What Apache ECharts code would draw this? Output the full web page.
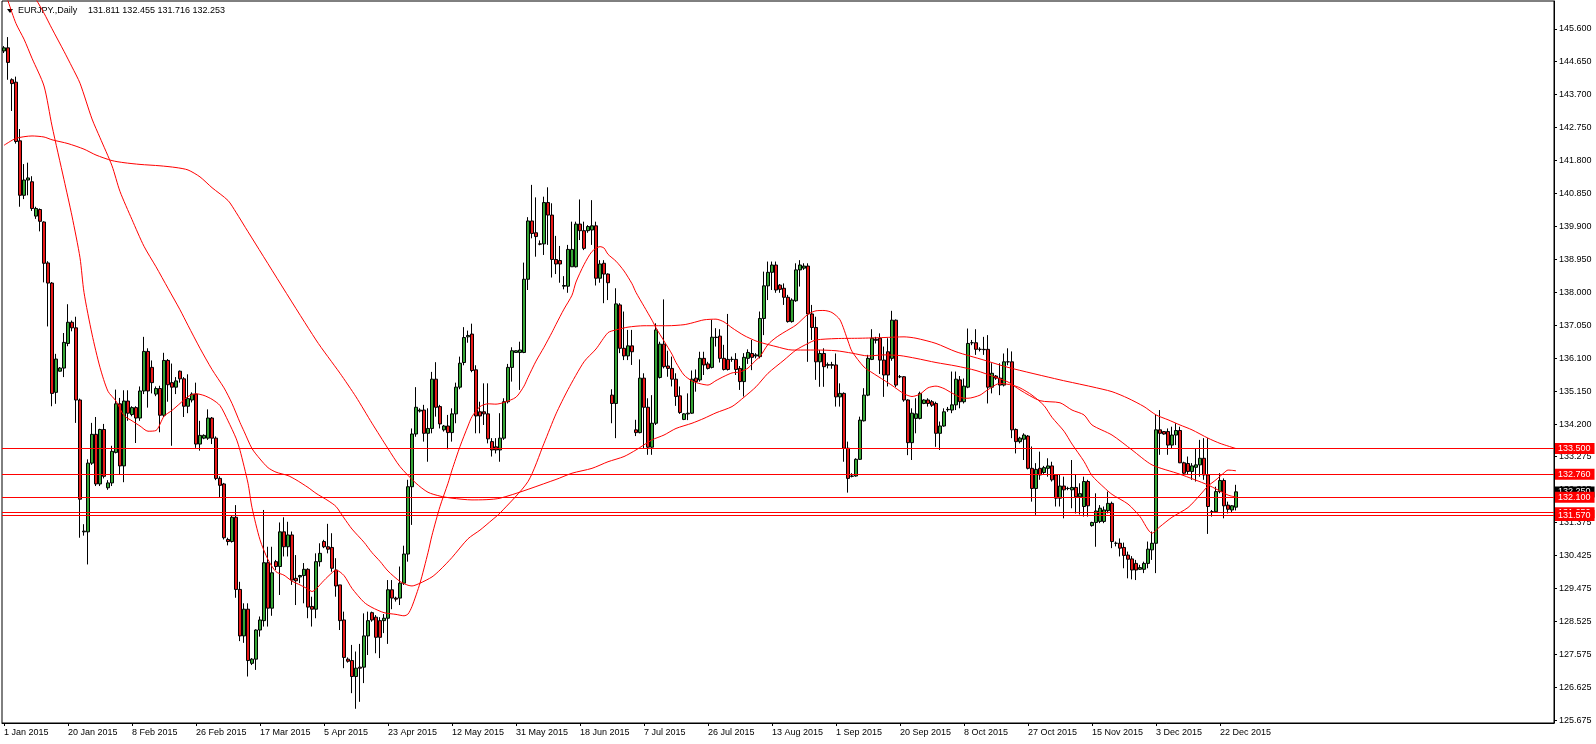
<!DOCTYPE html>
<html><head><meta charset="utf-8">
<script src="https://cdn.jsdelivr.net/npm/echarts@6.0.0/dist/echarts.min.js"></script>
<style>html,body{margin:0;padding:0;background:#fff}#c{width:1596px;height:744px}</style>
</head><body><div id="c"></div>
<script>
const opens = [
144.96,145.05,144.13,144.06,142.37,140.80,141.24,141.19,140.20,140.39,
140.03,138.85,138.27,135.12,135.73,135.82,136.53,137.14,136.98,134.90,
131.10,131.10,133.08,133.91,132.48,134.05,132.37,132.51,133.39,134.79,
133.00,134.87,134.48,134.68,134.38,135.16,136.30,135.84,135.07,135.23,
134.46,136.04,135.40,135.27,135.73,135.51,134.72,134.90,135.07,133.63,
133.80,133.80,134.38,133.80,132.64,132.48,130.88,130.82,131.52,129.44,
128.10,128.87,127.31,127.43,128.27,128.54,130.21,128.90,130.24,130.10,
131.10,130.67,131.01,129.76,129.80,129.84,130.02,128.95,128.87,130.24,
130.82,130.67,130.65,130.00,129.57,128.56,127.43,127.39,126.93,127.20,
127.20,128.10,128.77,128.64,128.54,128.54,128.61,129.43,129.19,129.19,
129.62,130.46,132.40,133.92,134.58,134.61,133.94,134.08,135.50,134.71,
134.04,134.15,133.96,134.50,135.27,135.98,136.72,136.80,135.77,134.56,
134.56,134.50,133.70,133.55,133.46,133.80,134.85,135.84,136.27,136.27,
136.27,138.38,140.06,139.72,139.40,139.40,140.59,140.23,138.95,138.92,
138.18,138.18,138.74,138.74,139.97,139.78,139.78,139.80,139.92,138.41,
138.84,138.53,135.04,134.80,137.64,136.39,136.17,136.46,134.04,133.96,
135.53,134.69,133.54,134.23,135.55,136.51,135.88,135.81,135.50,135.02,
134.34,134.50,134.52,135.53,135.48,136.10,135.94,135.84,136.71,136.74,
136.10,136.07,136.07,136.07,135.81,135.43,136.10,136.24,136.17,136.15,
137.25,138.19,138.58,138.79,138.21,138.12,137.86,137.16,137.76,138.65,
138.70,138.76,137.38,136.99,136.00,136.24,135.90,135.92,135.91,134.99,
135.09,133.51,132.70,132.71,133.19,134.30,135.04,136.07,136.65,136.68,
136.05,136.29,136.10,137.20,135.57,135.57,134.90,133.67,134.37,134.37,
134.80,134.90,134.85,134.80,133.94,134.15,134.62,134.61,134.76,135.48,
134.85,135.27,136.55,136.55,136.36,136.36,136.36,135.27,135.59,135.53,
135.33,136.00,136.00,134.05,133.70,133.77,133.86,132.93,132.35,132.93,
132.81,132.93,133.00,132.74,132.07,132.42,132.35,132.31,132.38,132.11,
131.83,132.55,131.28,131.37,131.40,131.40,131.71,131.92,130.77,130.77,
130.65,130.43,130.32,130.19,130.02,130.02,130.19,130.58,130.77,134.04,
133.99,133.99,133.60,133.89,134.02,133.09,133.07,132.84,132.96,133.03,
133.22,132.74,131.68,131.68,132.26,132.58,131.87,131.73,131.811
];
const closes = [
145.05,144.63,144.02,142.35,140.80,141.24,141.30,140.42,140.42,140.05,
138.84,138.27,135.09,136.08,135.82,136.56,137.14,136.98,134.90,132.04,
131.12,133.08,133.91,132.48,134.05,132.70,132.51,133.42,134.79,133.00,
134.87,134.52,134.68,134.38,135.16,136.30,135.16,135.40,135.23,134.46,
136.04,135.34,135.27,135.45,135.51,134.72,134.94,135.07,133.63,133.88,
133.88,134.38,133.80,132.64,132.44,130.93,130.82,131.52,129.44,128.10,
128.87,127.39,127.43,128.27,128.56,130.21,128.90,129.92,130.10,131.10,
130.67,131.01,129.71,129.69,129.84,130.02,128.93,128.87,130.24,130.48,
130.67,130.60,130.05,129.54,128.54,127.48,127.37,126.93,127.17,127.17,
128.10,128.54,128.56,128.06,128.06,128.61,129.43,129.19,129.16,129.62,
130.46,132.40,133.92,134.69,134.61,133.94,134.08,135.50,134.69,134.21,
134.15,133.96,134.50,135.27,135.96,136.70,136.76,135.75,134.44,134.44,
134.50,133.78,133.46,133.46,133.80,134.85,135.84,136.32,136.32,136.34,
138.38,140.06,139.70,139.61,139.39,140.59,140.23,138.95,138.82,138.82,
138.20,139.24,139.24,139.97,139.78,139.27,139.90,139.92,138.41,138.82,
138.53,138.28,134.80,137.67,136.39,136.17,136.46,136.29,133.96,135.53,
134.69,133.54,134.23,136.92,136.51,135.86,135.81,135.50,135.00,134.54,
134.50,134.52,135.50,135.43,136.10,135.91,135.81,136.71,136.70,136.10,
135.78,135.78,136.07,135.78,135.43,136.13,136.27,136.13,136.20,137.25,
138.19,138.58,138.79,138.07,138.09,137.86,137.16,137.78,138.65,138.79,
138.76,137.38,136.99,136.00,136.24,135.86,135.92,135.90,134.99,135.09,
133.51,132.64,132.71,133.19,134.32,135.04,136.10,136.68,136.62,136.05,
135.62,135.62,137.20,135.33,135.57,134.90,133.67,134.52,134.50,135.09,
134.90,134.80,134.75,133.94,134.15,134.56,134.63,134.76,135.50,134.85,
135.30,136.53,136.55,136.36,136.36,136.35,135.27,135.67,135.53,135.33,
136.00,136.00,134.04,133.70,133.80,133.89,132.93,132.35,132.90,132.74,
132.95,133.00,132.60,132.07,132.42,132.31,132.35,132.38,132.11,132.20,
132.55,131.85,131.37,131.70,131.78,131.73,131.92,130.82,130.77,130.63,
130.42,130.31,130.00,130.00,130.07,130.19,130.60,130.77,134.04,133.94,
133.92,133.60,133.89,134.02,133.09,132.79,132.84,133.00,133.03,133.22,
132.74,131.83,131.68,132.26,132.58,131.85,131.75,131.85,132.253
];
const highs = [
145.10,145.36,144.17,144.22,142.71,141.70,141.74,141.35,140.47,140.42,
140.05,138.90,138.30,136.23,135.85,136.83,137.66,137.19,137.30,134.94,
131.32,133.19,134.24,134.41,134.07,134.21,132.59,133.58,135.20,134.96,
135.18,135.18,134.72,134.72,135.29,136.72,136.39,136.04,135.29,135.31,
136.26,136.08,135.95,135.56,135.75,135.56,135.64,135.12,135.40,134.30,
133.91,134.63,134.41,133.85,132.70,132.51,130.93,131.56,131.87,129.66,
129.04,129.04,127.46,128.29,128.66,131.73,130.67,130.67,130.29,131.37,
131.52,131.39,131.11,130.43,129.86,130.20,130.05,129.23,130.48,130.77,
130.87,131.33,131.06,130.34,129.57,128.80,127.48,127.84,127.65,127.87,
128.75,128.80,128.80,128.70,128.64,128.73,129.71,129.71,129.23,130.10,
130.70,132.60,134.08,135.27,134.66,134.76,134.66,135.71,135.99,134.76,
134.18,134.47,134.66,135.40,136.15,137.00,136.90,137.10,135.90,134.85,
135.38,135.38,133.80,133.80,134.52,134.95,135.94,136.42,136.33,136.58,
138.86,140.17,141.10,140.74,139.50,140.76,141.03,140.57,139.63,139.34,
138.47,139.37,140.04,140.04,140.68,140.04,139.94,140.66,140.04,138.93,
138.93,138.55,135.21,138.12,137.69,137.45,136.92,136.92,134.33,136.07,
135.67,134.95,135.04,137.11,136.58,137.80,136.32,136.15,135.67,135.29,
134.52,135.09,135.75,135.78,136.29,136.29,136.00,137.21,136.97,136.94,
136.49,137.38,136.15,136.25,135.88,136.25,136.36,136.63,136.25,137.45,
138.60,138.89,138.89,138.89,138.24,138.26,137.93,137.83,138.84,138.93,
138.84,138.84,137.64,137.30,136.34,136.39,135.98,136.00,136.24,135.38,
135.12,133.70,132.79,133.22,134.42,135.24,136.20,136.94,136.72,136.82,
136.44,136.68,137.47,137.22,135.62,135.59,134.92,134.66,134.95,135.14,
134.92,134.95,134.90,134.85,134.28,134.66,134.70,135.72,135.72,135.59,
135.52,136.96,136.63,136.94,136.42,136.72,136.77,135.96,135.62,135.96,
136.24,136.39,136.30,134.08,133.84,133.94,133.89,133.56,133.08,133.41,
133.00,133.22,133.12,132.74,132.74,132.69,132.40,133.17,132.74,132.50,
132.69,132.60,131.39,132.21,131.87,131.83,132.26,131.97,130.82,130.91,
130.79,130.53,130.40,130.29,130.15,130.24,130.82,131.11,134.47,134.61,
134.00,134.08,134.13,134.23,134.13,133.12,133.27,133.08,133.51,133.75,
133.80,133.80,131.73,132.40,132.79,132.64,131.97,131.87,132.455
];
const lows = [
144.90,144.13,143.23,142.29,140.47,140.69,140.80,140.35,140.12,139.76,
138.29,137.02,134.72,134.79,135.72,135.56,136.45,136.88,134.24,130.93,
130.99,130.16,133.03,132.42,132.42,132.64,132.31,132.42,133.36,132.75,
132.53,134.30,134.43,133.66,134.30,135.07,134.68,135.09,135.01,133.97,
134.41,134.85,133.58,135.07,135.40,134.41,134.52,134.83,133.52,133.44,
133.77,133.75,133.63,132.59,132.09,130.88,130.71,130.79,129.20,127.95,
127.90,126.93,127.26,127.12,128.08,128.37,128.37,128.68,130.00,129.28,
130.39,130.39,129.57,128.99,129.62,129.04,128.61,128.37,128.61,130.10,
130.63,130.48,129.95,129.23,128.27,127.17,127.33,126.45,126.00,126.20,
126.74,127.55,128.51,127.60,127.46,128.18,127.87,128.87,129.09,128.99,
129.57,130.24,131.30,133.84,134.54,133.70,133.12,133.94,134.42,134.08,
133.99,133.48,133.70,134.23,135.21,135.90,136.55,135.70,133.94,133.94,
134.18,133.65,133.27,133.36,133.12,133.75,134.80,135.43,136.26,135.19,
136.25,138.07,139.56,139.03,139.36,139.08,139.37,138.43,138.53,138.28,
138.09,137.99,138.74,138.72,139.51,139.22,139.72,139.37,138.20,138.28,
137.69,137.78,134.23,133.80,136.25,136.05,136.05,135.91,133.86,133.94,
133.51,133.32,133.32,134.18,135.52,135.81,135.57,135.29,134.73,134.50,
134.32,134.32,134.50,135.14,135.43,135.62,135.78,135.81,136.44,135.98,
135.75,135.75,136.00,135.62,135.19,135.00,135.94,135.76,136.10,136.10,
136.77,137.78,138.07,137.99,137.99,137.64,137.13,137.13,137.73,138.17,
138.65,136.00,136.63,135.48,135.28,135.28,135.81,135.80,134.71,134.71,
133.12,132.23,132.67,132.69,133.17,134.28,135.01,136.05,136.53,135.65,
134.99,135.29,136.03,135.27,135.53,134.85,133.31,133.17,133.94,134.34,
134.78,134.71,134.70,133.55,133.46,134.13,134.56,134.52,134.61,134.66,
134.80,135.24,136.48,136.20,136.30,136.20,134.80,135.09,135.48,135.04,
135.29,135.90,133.80,133.36,133.65,133.17,132.90,131.97,131.59,132.60,
132.77,132.69,132.55,131.83,131.83,131.49,132.30,131.78,131.63,131.60,
131.54,131.54,131.25,130.67,131.35,131.35,131.63,130.63,130.68,130.39,
130.05,129.76,129.73,129.71,130.00,129.91,130.05,130.29,129.91,133.32,
133.90,133.32,133.51,133.60,133.08,132.74,132.74,132.60,132.55,132.69,
132.60,131.04,131.54,131.65,132.21,131.49,131.63,131.65,131.716
];
// moving averages: [bar index, value]
const maFast = [
[0,146.75],[1,146.4],[3,145.75],[5,145.3],[7,144.75],[10,143.95],[12,142.8],[15,141.25],[17,140.2],[19,139.0],
[20,138.0],[22,136.8],[24,135.84],[26,135.15],[28,134.87],[30,134.45],[32,134.3],[34,134.15],[36,134.0],[38,134.02],
[40,134.43],[42,134.6],[44,134.8],[46,135.0],[48,135.08],[50,135.03],[52,134.92],[54,134.74],[56,134.3],[58,133.8],
[59,133.45],[61,132.5],[62,131.8],[64,130.87],[66,130.3],[68,129.95],[70,129.85],[72,129.68],[74,129.57],[76,129.45],
[77,129.38],[78,129.45],[80,129.7],[82,129.92],[83,130.0],[85,129.84],[87,129.47],[90,129.07],[92,128.92],[95,128.77],
[98,128.72],[100,128.68],[101,128.73],[102,128.95],[104,129.62],[106,130.5],[107,131.0],[109,131.83],[111,132.5],[112,132.88],
[114,133.56],[116,134.15],[117,134.42],[119,134.71],[121,134.79],[123,134.78],[125,134.83],[128,134.98],[130,135.3],[131,135.55],
[133,136.02],[135,136.42],[137,136.85],[138,137.08],[140,137.52],[142,137.92],[143,138.3],[145,138.8],[147,139.18],[149,139.32],
[150,139.28],[151,139.1],[153,138.9],[155,138.62],[157,138.25],[158,138.0],[160,137.6],[162,137.2],[163,136.98],[165,136.6],
[167,136.22],[168,135.98],[170,135.62],[172,135.45],[174,135.37],[176,135.33],[178,135.46],[180,135.58],[182,135.68],[184,135.71],
[186,135.82],[188,136.05],[189,136.15],[191,136.5],[193,136.7],[195,136.85],[198,137.06],[201,137.37],[203,137.47],[205,137.48],
[207,137.42],[209,137.21],[211,136.6],[212,136.3],[215,135.85],[217,135.69],[220,135.47],[222,135.32],[225,135.08],[227,135.0],
[229,135.07],[231,135.25],[233,135.3],[235,135.23],[237,135.1],[240,134.95],[241,134.95],[244,135.04],[246,135.2],[249,135.38],
[252,135.33],[254,135.25],[257,135.04],[260,134.74],[262,134.4],[265,134.0],[267,133.63],[270,133.13],[272,132.72],[275,132.38],
[277,132.18],[281,131.9],[284,131.54],[287,131.06],[289,131.25],[292,131.52],[296,131.8],[299,132.16],[301,132.42],[303,132.6],
[305,132.8],[306,132.88],[308,132.86]
];
const maMid = [
[7,146.65],[8,146.45],[10,146.05],[12,145.6],[15,144.95],[17,144.5],[19,144.03],[22,143.0],[24,142.46],[27,141.65],
[29,140.91],[32,140.1],[35,139.33],[38,138.74],[41,138.12],[44,137.5],[46,137.05],[49,136.39],[52,135.78],[55,135.25],
[57,134.8],[59,134.25],[60,134.0],[62,133.5],[64,133.2],[66,132.95],[68,132.82],[71,132.72],[73,132.6],[76,132.38],
[78,132.21],[81,132.0],[83,131.83],[85,131.5],[87,131.18],[90,130.8],[92,130.5],[94,130.25],[96,129.97],[99,129.67],
[101,129.56],[102,129.54],[104,129.62],[107,129.8],[109,130.0],[112,130.36],[116,130.9],[119,131.15],[122,131.44],[124,131.64],
[131,132.55],[135,133.65],[138,134.5],[141,135.2],[145,136.0],[148,136.37],[151,136.84],[153,136.92],[156,137.0],[160,137.04],
[163,137.04],[166,137.04],[170,137.07],[172,137.12],[175,137.21],[178,137.23],[180,137.15],[182,136.98],[185,136.76],[188,136.6],
[190,136.53],[193,136.44],[197,136.34],[203,136.34],[208,136.32],[212,136.25],[216,136.17],[220,136.2],[224,136.18],[228,136.1],
[233,135.98],[238,135.88],[243,135.75],[248,135.55],[251,135.42],[254,135.19],[259,134.88],[264,134.82],[267,134.61],[270,134.47],
[272,134.18],[277,133.89],[282,133.46],[287,133.03],[294,132.76],[301,132.45],[306,132.16],[308,132.1]
];
const maSlow = [
[0,142.24],[3,142.44],[7,142.51],[10,142.48],[12,142.4],[16,142.29],[20,142.13],[23,141.96],[27,141.8],[30,141.74],
[34,141.69],[39,141.65],[43,141.6],[46,141.53],[49,141.33],[52,141.02],[56,140.65],[58,140.31],[61,139.75],[78,136.63],
[84,135.67],[88,134.99],[92,134.23],[96,133.5],[99,132.98],[103,132.5],[106,132.24],[109,132.13],[112,132.07],[117,132.02],
[124,132.07],[138,132.61],[142,132.79],[147,132.93],[151,133.12],[155,133.27],[158,133.46],[162,133.75],[165,133.89],[168,134.08],
[172,134.23],[175,134.37],[178,134.53],[182,134.71],[185,134.98],[188,135.28],[191,135.67],[195,136.05],[198,136.34],[201,136.53],
[203,136.63],[208,136.67],[214,136.68],[220,136.7],[225,136.72],[228,136.68],[233,136.53],[238,136.29],[245,136.05],[251,135.84],
[264,135.48],[268,135.38],[272,135.28],[277,135.14],[281,134.95],[285,134.71],[288,134.47],[291,134.33],[294,134.18],[297,134.04],
[301,133.8],[304,133.65],[308,133.5]
];
const levels = [131.65, 131.57, 133.5, 132.76, 132.1];
const lastPrice = 132.253;
const yTicks = [125.675,126.625,127.575,128.525,129.475,130.425,131.375,132.325,133.275,134.2,135.15,136.1,137.05,138.0,138.95,139.9,140.85,141.8,142.75,143.7,144.65,145.6];
const xTickLabels = ['1 Jan 2015','20 Jan 2015','8 Feb 2015','26 Feb 2015','17 Mar 2015','5 Apr 2015','23 Apr 2015','12 May 2015','31 May 2015','18 Jun 2015','7 Jul 2015','26 Jul 2015','13 Aug 2015','1 Sep 2015','20 Sep 2015','8 Oct 2015','27 Oct 2015','15 Nov 2015','3 Dec 2015','22 Dec 2015'];
const symbolText = 'EURJPY.,Daily';
const ohlcText = '131.811 132.455 131.716 132.253';

const SLOTS = 388, EVERY = 16;
const FONT = '"Liberation Sans", Arial, sans-serif';
const categories = Array.from({length: SLOTS}, (_, i) => String(i));
const candles = opens.map((o, i) => [o, closes[i], lows[i], highs[i]]);
const showTick = (i) => i % EVERY === 0 && i / EVERY < xTickLabels.length;

const levelLabel = (bg) => ({show: true, position: 'end', distance: 1, formatter: p => p.value.toFixed(3),
  backgroundColor: bg, color: '#fff', fontSize: 9, fontFamily: FONT, padding: [1, 4, 1, 3], lineHeight: 9, opacity: 1});

const markData = [{yAxis: lastPrice, lineStyle: {color: 'rgba(0,0,0,0)', width: 1}, label: levelLabel('#000')}]
  .concat(levels.map(v => ({yAxis: v, label: levelLabel('#ff0000')})));

const chart = echarts.init(document.getElementById('c'), null, {renderer: 'canvas'});
const maSeries = (d) => ({type: 'line', data: d, showSymbol: false, symbol: 'none', smooth: 0.25, silent: true, z: 3,
  lineStyle: {color: '#ff0000', width: 1}, animation: false});
chart.setOption({
  animation: false,
  backgroundColor: '#fff',
  grid: {left: 2, right: 42, top: 1, bottom: 21, show: true, borderColor: '#000', borderWidth: 1, backgroundColor: '#fff'},
  xAxis: {type: 'category', data: categories, boundaryGap: true,
    axisLine: {lineStyle: {color: '#000', width: 1}},
    axisTick: {show: true, interval: showTick, alignWithLabel: true, length: 3, lineStyle: {color: '#000'}},
    axisLabel: {interval: showTick, formatter: (v, i) => xTickLabels[i / EVERY], align: 'left', margin: 5,
      fontSize: 9, fontFamily: FONT, color: '#000'},
    splitLine: {show: false}},
  yAxis: {type: 'value', position: 'right', min: 125.59, max: 146.40, scale: true,
    axisLine: {show: true, lineStyle: {color: '#000', width: 1}},
    axisTick: {show: true, customValues: yTicks, length: 3, lineStyle: {color: '#000'}},
    axisLabel: {customValues: yTicks, formatter: v => v.toFixed(3), margin: 5, fontSize: 9, fontFamily: FONT, color: '#000'},
    splitLine: {show: false}},
  graphic: [
    {type: 'polygon', shape: {points: [[7, 9], [13, 9], [10, 13]]}, style: {fill: '#000'}},
    {type: 'text', x: 18, y: 6, style: {text: symbolText, font: '9px ' + FONT, fill: '#000'}},
    {type: 'text', x: 88, y: 6, style: {text: ohlcText, font: '9px ' + FONT, fill: '#000'}}
  ],
  series: [
    {type: 'candlestick', data: candles, barWidth: 3, z: 2,
      itemStyle: {color: '#35a535', color0: '#e81818', borderColor: '#000', borderColor0: '#000', borderWidth: 1},
      markLine: {silent: true, symbol: 'none', animation: false, z: 5,
        lineStyle: {color: '#ff0000', width: 1, type: 'solid'}, data: markData}},
    maSeries(maFast), maSeries(maMid), maSeries(maSlow)
  ]
});
</script></body></html>
